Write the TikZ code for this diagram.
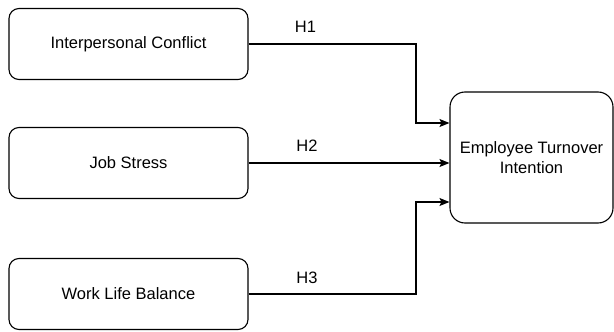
\documentclass[tikz,border=0pt]{standalone}
\usepackage{fontspec}
\setmainfont{Liberation Sans}
\usetikzlibrary{arrows.meta}

\tikzset{
  factorbox/.style={draw, line width=1.1pt, rounded corners=10pt,
    minimum width=239pt, minimum height=71pt, align=center},
  targetbox/.style={draw, line width=1.1pt, rounded corners=15pt,
    minimum width=163pt, minimum height=131pt, align=center},
  link/.style={line width=1.1pt, -{Stealth[length=10pt,width=8pt,inset=2pt]}},
  hyplabel/.style={inner sep=0pt}
}

\begin{document}
\begin{tikzpicture}[x=1pt, y=-1pt, font=\fontsize{16.5}{20}\selectfont]

\useasboundingbox (0,0) rectangle (614,332);

% Variablen links
\node [factorbox] (conflict) at (128.5,44) {Interpersonal Conflict};
\node [factorbox] (stress) at (128.5,163) {Job Stress};
\node [factorbox] (balance) at (128.5,294) {Work Life Balance};

% Zielvariable
\node [targetbox] (turnover) at (531.5,157.5) {Employee Turnover\\Intention};

% Knickpunkte der Pfeile
\coordinate (k1) at (416,123);
\coordinate (k3) at (416,202);

\draw [link] (conflict.east) -| (k1) -- (k1 -| turnover.west);
\draw [link] (stress.east) -- (stress.east -| turnover.west);
\draw [link] (balance.east) -| (k3) -- (k3 -| turnover.west);

% Hypothesen
\node [hyplabel] (h1) at (305.5,26.5) {H1};
\node [hyplabel] (h2) at (307,146) {H2};
\node [hyplabel] (h3) at (307,278) {H3};

\end{tikzpicture}
\end{document}
